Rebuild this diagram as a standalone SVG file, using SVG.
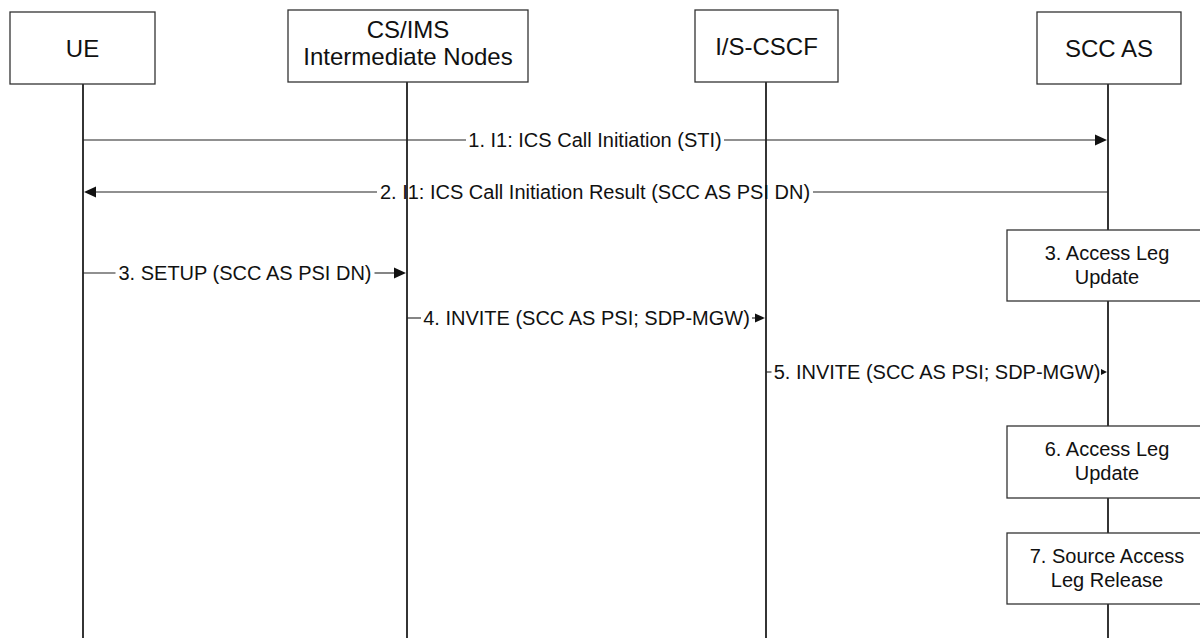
<svg xmlns="http://www.w3.org/2000/svg" width="1200" height="638" viewBox="0 0 1200 638">
<style>
.box{fill:#fff;stroke:#333;stroke-width:1.3}
.life{stroke:#111;stroke-width:1.7;fill:none}
.msg{stroke:#222;stroke-width:1.1;fill:none}
.head{fill:#111}
.t{font-family:"Liberation Sans",Arial,sans-serif;fill:#111}
.h{font-size:24px;text-anchor:middle}
.m{font-size:20px;text-anchor:middle}
.b{font-size:20px;text-anchor:middle}
</style>
<rect width="1200" height="638" fill="#fff"/>
<g id="lifelines">
<line class="life" x1="83" y1="84" x2="83" y2="638"/>
<line class="life" x1="407" y1="82" x2="407" y2="638"/>
<line class="life" x1="766" y1="82" x2="766" y2="638"/>
<line class="life" x1="1108" y1="84" x2="1108" y2="638"/>
</g>
<g id="ue"><rect class="box" x="10" y="12" width="145" height="72"/><text class="t h" x="82.5" y="57">UE</text></g>
<g id="cs-ims"><rect class="box" x="288" y="10" width="240" height="72"/><text class="t h" x="408" y="38">CS/IMS</text><text class="t h" x="408" y="65">Intermediate Nodes</text></g>
<g id="is-cscf"><rect class="box" x="695" y="10" width="143" height="72"/><text class="t h" x="766.5" y="55">I/S-CSCF</text></g>
<g id="scc-as"><rect class="box" x="1037" y="12" width="144" height="72"/><text class="t h" x="1109" y="57">SCC AS</text></g>
<g id="connectors">
<line class="msg" x1="83" y1="140" x2="466" y2="140"/>
<line class="msg" x1="724" y1="140" x2="1096" y2="140"/>
<polygon class="head" points="1107,140 1095,134.5 1095,145.5"/>
<text class="t m" x="595" y="147">1. I1: ICS Call Initiation (STI)</text>
<line class="msg" x1="1108" y1="192" x2="813" y2="192"/>
<line class="msg" x1="377" y1="192" x2="95" y2="192"/>
<polygon class="head" points="84,192 96,186.5 96,197.5"/>
<text class="t m" x="595" y="199">2. I1: ICS Call Initiation Result (SCC AS PSI DN)</text>
<line class="msg" x1="83" y1="273" x2="115.5" y2="273"/>
<line class="msg" x1="374.5" y1="273" x2="395" y2="273"/>
<polygon class="head" points="406,273 394,267.5 394,278.5"/>
<text class="t m" x="245" y="280">3. SETUP (SCC AS PSI DN)</text>
<line class="msg" x1="407" y1="318" x2="421" y2="318"/>
<line class="msg" x1="752" y1="318" x2="756" y2="318"/>
<polygon class="head" points="765,318 755,313.5 755,322.5"/>
<text class="t m" x="586.5" y="325">4. INVITE (SCC AS PSI; SDP-MGW)</text>
<line class="msg" x1="766" y1="372" x2="771.5" y2="372"/>
<polygon class="head" points="1107,372 1101,369 1101,375"/>
<text class="t m" x="937" y="379">5. INVITE (SCC AS PSI; SDP-MGW)</text>
</g>
<g id="access-leg-update-3"><rect class="box" x="1007" y="230" width="205" height="71"/><text class="t b" x="1107" y="260">3. Access Leg</text><text class="t b" x="1107" y="283.5">Update</text></g>
<g id="access-leg-update-6"><rect class="box" x="1007" y="426" width="205" height="72"/><text class="t b" x="1107" y="456">6. Access Leg</text><text class="t b" x="1107" y="479.5">Update</text></g>
<g id="source-access-leg-release-7"><rect class="box" x="1007" y="533" width="205" height="71"/><text class="t b" x="1107" y="563">7. Source Access</text><text class="t b" x="1107" y="586.5">Leg Release</text></g>
</svg>
